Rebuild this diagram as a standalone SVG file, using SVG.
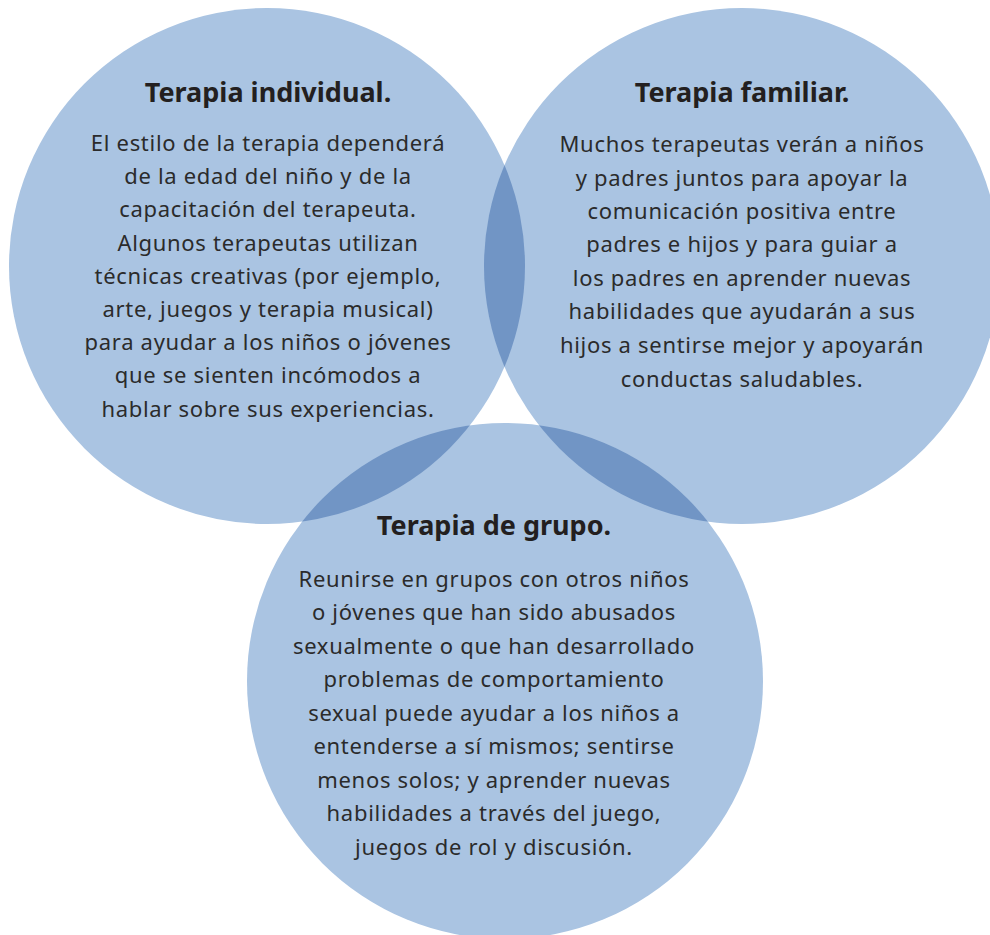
<svg xmlns="http://www.w3.org/2000/svg" width="990" height="935" viewBox="0 0 990 935">
<style>
.c{fill:#aac4e2}
.o{fill:#7195c5}
.t{font-family:"Noto Sans","Open Sans",sans-serif;font-weight:bold;font-size:27px;fill:#231f20;text-anchor:middle}
.b{font-family:"Noto Sans","Open Sans",sans-serif;font-size:22px;letter-spacing:0.7px;fill:#2b2b2b;text-anchor:middle}
</style>
<defs>
<clipPath id="k1"><circle cx="267" cy="266" r="258"/></clipPath>
<clipPath id="k2"><circle cx="742" cy="266" r="258"/></clipPath>
</defs>
<rect width="990" height="935" fill="#ffffff"/>
<g id="shapes">
<circle class="c" cx="267" cy="266" r="258"/>
<circle class="c" cx="742" cy="266" r="258"/>
<circle class="c" cx="505" cy="681" r="258"/>
<circle class="o" cx="742" cy="266" r="258" clip-path="url(#k1)"/>
<circle class="o" cx="505" cy="681" r="258" clip-path="url(#k1)"/>
<circle class="o" cx="505" cy="681" r="258" clip-path="url(#k2)"/>
</g>
<g id="individual">
<text class="t" x="268" y="102">Terapia individual.</text>
<text class="b" x="268" y="151">El estilo de la terapia dependerá</text>
<text class="b" x="268" y="184">de la edad del niño y de la</text>
<text class="b" x="268" y="217">capacitación del terapeuta.</text>
<text class="b" x="268" y="251">Algunos terapeutas utilizan</text>
<text class="b" x="268" y="284">técnicas creativas (por ejemplo,</text>
<text class="b" x="268" y="317">arte, juegos y terapia musical)</text>
<text class="b" x="268" y="350">para ayudar a los niños o jóvenes</text>
<text class="b" x="268" y="383">que se sienten incómodos a</text>
<text class="b" x="268" y="417">hablar sobre sus experiencias.</text>
</g>
<g id="familiar">
<text class="t" x="742" y="102">Terapia familiar.</text>
<text class="b" x="742" y="152">Muchos terapeutas verán a niños</text>
<text class="b" x="742" y="186">y padres juntos para apoyar la</text>
<text class="b" x="742" y="219">comunicación positiva entre</text>
<text class="b" x="742" y="252">padres e hijos y para guiar a</text>
<text class="b" x="742" y="286">los padres en aprender nuevas</text>
<text class="b" x="742" y="319">habilidades que ayudarán a sus</text>
<text class="b" x="742" y="353">hijos a sentirse mejor y apoyarán</text>
<text class="b" x="742" y="387">conductas saludables.</text>
</g>
<g id="grupo">
<text class="t" x="494" y="535">Terapia de grupo.</text>
<text class="b" x="494" y="587">Reunirse en grupos con otros niños</text>
<text class="b" x="494" y="620">o jóvenes que han sido abusados</text>
<text class="b" x="494" y="654">sexualmente o que han desarrollado</text>
<text class="b" x="494" y="687">problemas de comportamiento</text>
<text class="b" x="494" y="721">sexual puede ayudar a los niños a</text>
<text class="b" x="494" y="754">entenderse a sí mismos; sentirse</text>
<text class="b" x="494" y="788">menos solos; y aprender nuevas</text>
<text class="b" x="494" y="821">habilidades a través del juego,</text>
<text class="b" x="494" y="855">juegos de rol y discusión.</text>
</g>
<g id="connectors"></g>
</svg>
